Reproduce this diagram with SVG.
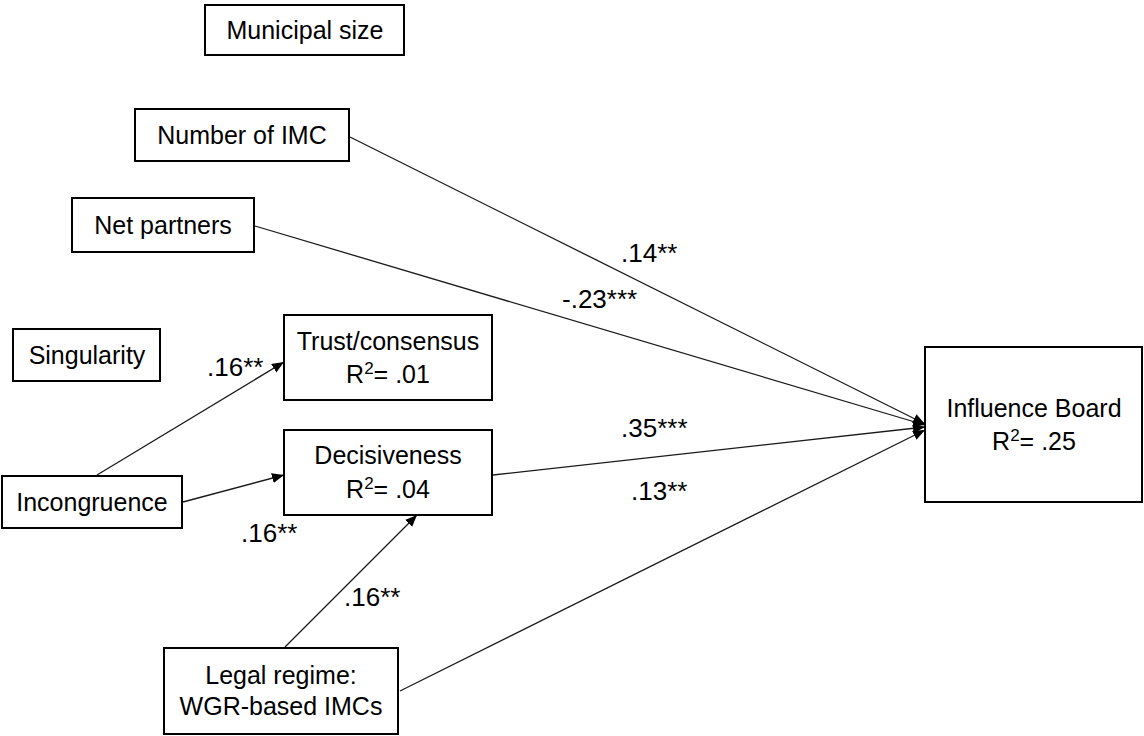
<svg xmlns="http://www.w3.org/2000/svg" width="1144" height="736" viewBox="0 0 1144 736">
<defs>
<marker id="arr" markerWidth="13" markerHeight="11" refX="12" refY="5" orient="auto" markerUnits="userSpaceOnUse">
<path d="M0,0 L12,5 L0,10 z" fill="#000"/>
</marker>
<style>
.box{fill:#fff;stroke:#000;stroke-width:2}
.t{font-family:"Liberation Sans",Arial,sans-serif;font-size:25px;fill:#000;text-anchor:middle}
.lbl{font-family:"Liberation Sans",Arial,sans-serif;font-size:26px;fill:#000}
.c{stroke:#1a1a1a;stroke-width:1.3;fill:none;marker-end:url(#arr)}
.sup{font-size:17px}
</style>
</defs>
<rect width="1144" height="736" fill="#fff"/>
<g id="connectors">
<line class="c" x1="350" y1="137" x2="925" y2="424"/>
<line class="c" x1="255" y1="226" x2="925" y2="425"/>
<line class="c" x1="97" y1="475" x2="284" y2="362"/>
<line class="c" x1="183" y1="502" x2="284" y2="475"/>
<line class="c" x1="285" y1="647" x2="417" y2="515"/>
<line class="c" x1="493" y1="475" x2="925" y2="427"/>
<line class="c" x1="400" y1="691" x2="925" y2="430"/>
</g>
<g id="labels">
<text class="lbl" x="621" y="262">.14**</text>
<text class="lbl" x="562" y="308">-.23***</text>
<text class="lbl" x="207" y="376">.16**</text>
<text class="lbl" x="621" y="437">.35***</text>
<text class="lbl" x="241" y="542">.16**</text>
<text class="lbl" x="344" y="606">.16**</text>
<text class="lbl" x="631" y="500">.13**</text>
</g>
<g id="municipal-size">
<rect class="box" x="205" y="5" width="199" height="50"/>
<text class="t" x="305" y="39">Municipal size</text>
</g>
<g id="number-of-imc">
<rect class="box" x="135" y="109" width="214" height="52"/>
<text class="t" x="242" y="144">Number of IMC</text>
</g>
<g id="net-partners">
<rect class="box" x="72" y="198" width="182" height="54"/>
<text class="t" x="163" y="234">Net partners</text>
</g>
<g id="singularity">
<rect class="box" x="13" y="329" width="147" height="52"/>
<text class="t" x="87" y="364">Singularity</text>
</g>
<g id="trust-consensus">
<rect class="box" x="284" y="315" width="208" height="85"/>
<text class="t" x="388" y="350">Trust/consensus</text>
<text class="t" x="388" y="383">R<tspan class="sup" dy="-9">2</tspan><tspan dy="9">= .01</tspan></text>
</g>
<g id="decisiveness">
<rect class="box" x="284" y="430" width="208" height="85"/>
<text class="t" x="388" y="464">Decisiveness</text>
<text class="t" x="388" y="498">R<tspan class="sup" dy="-9">2</tspan><tspan dy="9">= .04</tspan></text>
</g>
<g id="incongruence">
<rect class="box" x="2" y="476" width="180" height="52"/>
<text class="t" x="92" y="511">Incongruence</text>
</g>
<g id="influence-board">
<rect class="box" x="925" y="347" width="217" height="155"/>
<text class="t" x="1034" y="417">Influence Board</text>
<text class="t" x="1034" y="450">R<tspan class="sup" dy="-9">2</tspan><tspan dy="9">= .25</tspan></text>
</g>
<g id="legal-regime">
<rect class="box" x="164" y="648" width="234" height="86"/>
<text class="t" x="281" y="684">Legal regime:</text>
<text class="t" x="281" y="715">WGR-based IMCs</text>
</g>
</svg>
